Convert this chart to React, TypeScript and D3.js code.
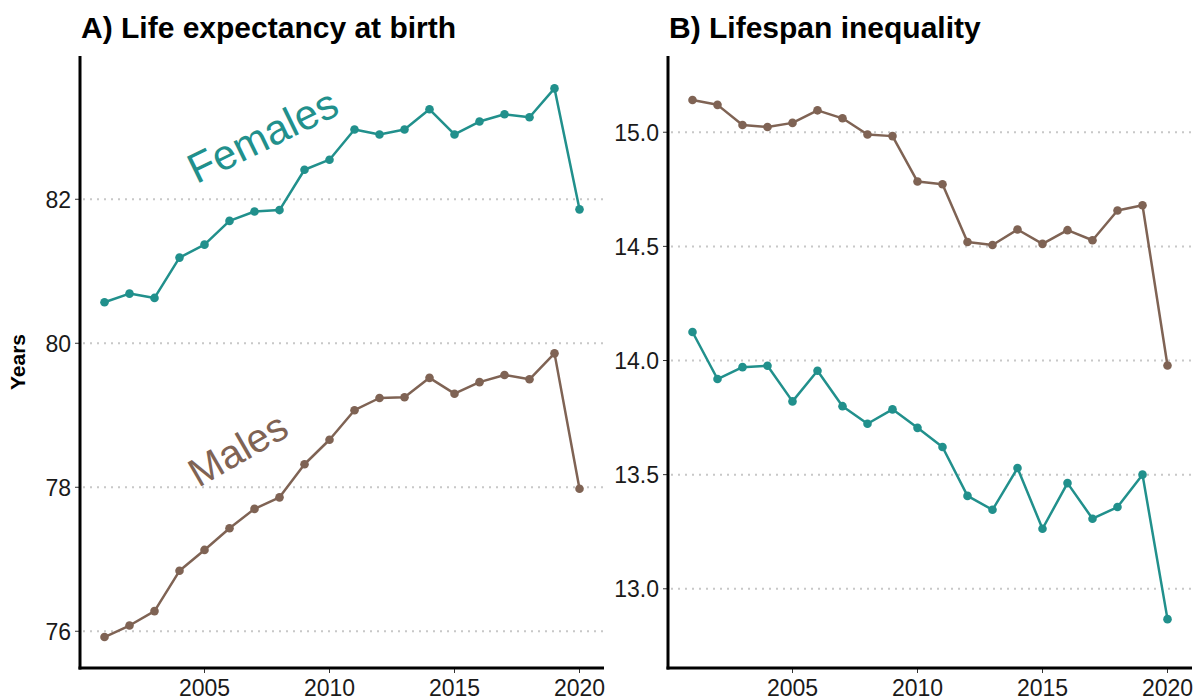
import React from "react";
import * as d3 from "d3";

const years = [2001, 2002, 2003, 2004, 2005, 2006, 2007, 2008, 2009, 2010, 2011, 2012, 2013, 2014, 2015, 2016, 2017, 2018, 2019, 2020];
const leFemales = [80.57, 80.69, 80.63, 81.19, 81.37, 81.70, 81.83, 81.85, 82.41, 82.55, 82.97, 82.90, 82.97, 83.25, 82.90, 83.08, 83.18, 83.14, 83.54, 81.86];
const leMales = [75.92, 76.08, 76.28, 76.84, 77.13, 77.43, 77.70, 77.86, 78.32, 78.66, 79.07, 79.24, 79.25, 79.52, 79.30, 79.46, 79.56, 79.50, 79.86, 77.98];
const liFemales = [14.125, 13.919, 13.971, 13.977, 13.821, 13.955, 13.80, 13.723, 13.786, 13.705, 13.621, 13.407, 13.346, 13.529, 13.263, 13.463, 13.307, 13.358, 13.50, 12.867];
const liMales = [15.141, 15.12, 15.032, 15.023, 15.041, 15.096, 15.061, 14.99, 14.983, 14.784, 14.772, 14.519, 14.506, 14.574, 14.511, 14.571, 14.527, 14.657, 14.68, 13.978];
const xTicks = [2005, 2010, 2015, 2020];
const leTicks = [76, 78, 80, 82];
const liTicks = [13.0, 13.5, 14.0, 14.5, 15.0];

const TEAL = "#21908c";
const BROWN = "#7f6354";
const FONT = "Liberation Sans, Arial, sans-serif";

type PanelProps = {
  x0: number; x1: number; y0: number; y1: number;
  yDomain: [number, number];
  ticks: number[];
  fmt: (v: number) => string;
  title: string;
  fem: number[]; mal: number[];
  children?: (x: d3.ScaleLinear<number, number>, y: d3.ScaleLinear<number, number>) => React.ReactNode;
};

function Panel({ x0, x1, y0, y1, yDomain, ticks, fmt, title, fem, mal, children }: PanelProps) {
  const x = d3.scaleLinear().domain([2000.02, 2020.98]).range([x0, x1]);
  const y = d3.scaleLinear().domain(yDomain).range([y1, y0]);
  const line = d3.line<number>().x((_, i) => x(years[i])).y((d) => y(d));
  const series = [
    { v: fem, c: TEAL },
    { v: mal, c: BROWN },
  ];
  return (
    <g>
      <text x={x0 + 1} y={38} fontFamily={FONT} fontWeight="bold" fontSize={30} fill="#000">{title}</text>
      {ticks.map((t) => (
        <g key={t}>
          <line x1={x0 + 3} x2={x1} y1={y(t)} y2={y(t)} stroke="#c8c8c8" strokeWidth={2} strokeDasharray="2,5" />
          <line x1={x0 - 5} x2={x0} y1={y(t)} y2={y(t)} stroke="#333" strokeWidth={1} />
          <text x={x0 - 9} y={y(t)} dy="0.36em" textAnchor="end" fontFamily={FONT} fontSize={23} fill="#1a1a1a">{fmt(t)}</text>
        </g>
      ))}
      {xTicks.map((t) => (
        <g key={t}>
          <line x1={x(t)} x2={x(t)} y1={y1} y2={y1 + 5} stroke="#333" strokeWidth={1} />
          <text x={x(t)} y={y1 + 28} textAnchor="middle" fontFamily={FONT} fontSize={23} fill="#1a1a1a">{t}</text>
        </g>
      ))}
      {series.map((s, k) => (
        <g key={k}>
          <path d={line(s.v) || ""} fill="none" stroke={s.c} strokeWidth={2.5} strokeLinejoin="round" />
          {s.v.map((d, i) => (
            <circle key={i} cx={x(years[i])} cy={y(d)} r={4.3} fill={s.c} />
          ))}
        </g>
      ))}
      {children && children(x, y)}
      <line x1={x0} x2={x0} y1={y0} y2={y1 + 1.5} stroke="#000" strokeWidth={3} />
      <line x1={x0 - 1.5} x2={x1} y1={y1} y2={y1} stroke="#000" strokeWidth={3} />
    </g>
  );
}

export default function App() {
  return (
    <div style={{ position: "absolute", left: 0, top: 0 }}>
      <svg width={1195} height={699} style={{ display: "block", background: "#fff" }}>
        <text transform="translate(25,362) rotate(-90)" textAnchor="middle" fontFamily={FONT} fontWeight="bold" fontSize={21} fill="#000">Years</text>
        <Panel
          x0={80} x1={604} y0={56} y1={668}
          yDomain={[75.49, 83.99]}
          ticks={leTicks}
          fmt={(v) => d3.format("d")(v)}
          title="A) Life expectancy at birth"
          fem={leFemales} mal={leMales}
        >
          {(x, y) => (
            <g>
              <text transform={`translate(${x(2007.58)},${y(82.7)}) rotate(-26)`} textAnchor="middle" fontFamily={FONT} fontSize={42} fill={TEAL}>Females</text>
              <text transform={`translate(${x(2006.61)},${y(78.36)}) rotate(-30)`} textAnchor="middle" fontFamily={FONT} fontSize={40} fill={BROWN}>Males</text>
            </g>
          )}
        </Panel>
        <Panel
          x0={668} x1={1192} y0={56} y1={668}
          yDomain={[12.653, 15.334]}
          ticks={liTicks}
          fmt={(v) => d3.format(".1f")(v)}
          title="B) Lifespan inequality"
          fem={liFemales} mal={liMales}
        />
      </svg>
    </div>
  );
}
